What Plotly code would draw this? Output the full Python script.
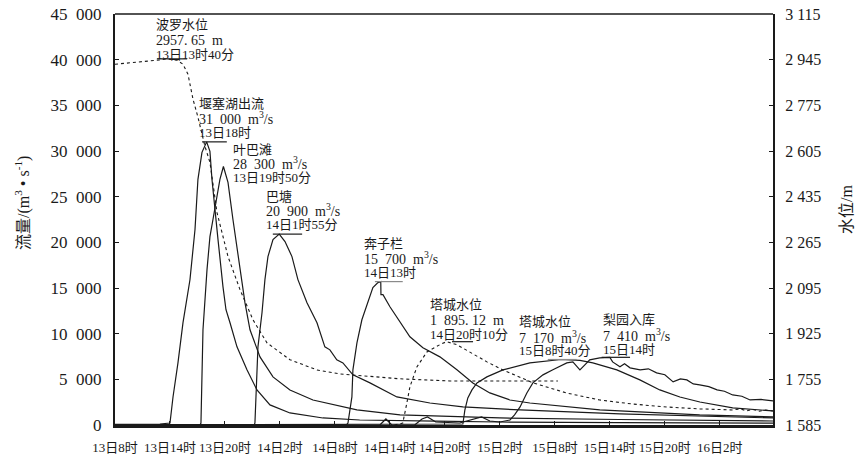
import plotly.graph_objects as go

# ---------------- data ----------------
# time axis: hours after 13日8时
tick_hours = [0, 6, 12, 18, 24, 30, 36, 42, 48, 54, 60, 66]
tick_labels = ["13日8时", "13日14时", "13日20时", "14日2时", "14日8时", "14日14时",
               "14日20时", "15日2时", "15日8时", "15日14时", "15日20时", "16日2时"]

flow_ticks = [0, 5000, 10000, 15000, 20000, 25000, 30000, 35000, 40000, 45000]
flow_tick_labels = ["0", "5\u2002000", "10\u2002000", "15\u2002000", "20\u2002000", "25\u2002000",
                    "30\u2002000", "35\u2002000", "40\u2002000", "45\u2002000"]
level_ticks = [1585, 1755, 1925, 2095, 2265, 2435, 2605, 2775, 2945, 3115]
level_tick_labels = ["1 585", "1 755", "1 925", "2 095", "2 265", "2 435",
                     "2 605", "2 775", "2 945", "3 115"]

# 堰塞湖出流 (m3/s)
yanse_t = [0, 4.9, 6.0, 6.33, 6.87, 7.42, 8.18, 8.73, 9.05, 9.49, 10.0, 10.36, 10.58, 10.91,
           11.24, 11.78, 12.11, 12.55, 13.31, 14.4, 15.49, 16.91, 19.09, 22.69, 26.7, 35, 42, 55, 71.8]
yanse_q = [60, 110, 220, 3070, 6800, 11200, 15900, 21400, 26900, 29850, 31000, 29960, 26900, 23270,
           20300, 15150, 12620, 11200, 8560, 6040, 3840, 2200, 1320, 770, 550, 420, 330, 260, 200]

# 叶巴滩 (m3/s)
yeba_t = [0, 9.3, 9.38, 9.6, 10.04, 10.36, 10.69, 11.45, 11.83, 12.33, 12.87, 13.31, 13.64, 14.18,
          14.73, 15.82, 17.24, 19.09, 21.6, 26.4, 31.1, 42, 55, 71.8]
yeba_q = [40, 50, 220, 10430, 17010, 20630, 22500, 26890, 28300, 26560, 22500, 19540, 17010, 13390,
          10430, 7460, 5270, 3840, 2740, 1650, 1100, 770, 600, 440]

# 巴塘 (m3/s)
batang_t = [0, 15.2, 15.27, 15.49, 15.6, 16.04, 16.36, 16.69, 17.24, 17.92, 18.55, 19.31, 19.96,
            20.95, 22.04, 22.9, 23.45, 24.2, 24.87, 25.96, 27.82, 30.76, 34.36, 37.96, 44.2, 55.1, 71.8]
batang_q = [30, 40, 220, 4940, 8560, 12290, 15920, 18440, 20300, 20900, 20090, 18440, 15920,
            13390, 11200, 8560, 8230, 7130, 6800, 5490, 4610, 3070, 2410, 1980, 1650, 1210, 770]

# 奔子栏 (m3/s)
benzilan_t = [0, 25.3, 25.42, 25.85, 25.96, 26.4, 26.94, 27.6, 28.14, 28.69, 29.0, 29.02, 29.24,
              30.0, 31.09, 32.18, 33.6, 35.45, 37.31, 39.05, 40.9, 43.09, 45.27, 52.9, 63.8, 71.8]
benzilan_q = [20, 60, 220, 3070, 6040, 9000, 11520, 13390, 15040, 15590, 15700, 14270, 14270,
              12950, 11300, 9660, 8450, 7460, 6040, 4610, 3510, 2740, 2410, 1650, 1100, 880]

# 塔城 流量 (m3/s)
tacheng_t = [0, 37.8, 37.96, 38.18, 38.5, 38.95, 39.5, 40.58, 42.33, 45.27, 47.45, 48.67, 50.73,
             52.14, 54.76, 57.27, 59.45, 61.64, 63.82, 67.4, 71.8]
tacheng_q = [20, 60, 110, 1650, 2960, 3840, 4610, 5270, 6040, 6800, 7020, 7170, 7080,
             6800, 6040, 4940, 3840, 3070, 2520, 1870, 1540]

# 梨园入库 (m3/s)
liyuan_t = [0, 28.9, 29.56, 30.2, 32.7, 33.5, 34.1, 35.0, 37.6, 38.9, 40.0, 40.9, 42.0, 43.1, 43.6,
            44.2, 44.94, 45.6, 46.7, 47.78, 49.3, 49.96, 50.4, 50.73, 51.27, 51.8, 52.9, 54.0, 54.3,
            55.1, 55.6, 56.2, 57.3, 58.2, 59.1, 60.0, 60.9, 61.7, 62.4, 63.1, 63.8, 64.8, 65.7,
            66.5, 67.4, 68.4, 69.3, 70.5, 71.8]
liyuan_q = [0, 0, 660, 0, 0, 660, 880, 330, 220, 550, 880, 440, 330, 550, 1100,
            1980, 3510, 4610, 5490, 6040, 6800, 6910, 6370, 6040, 6590, 7130, 7350, 7410, 6910,
            6370, 6700, 6260, 6040, 6150, 5710, 5500, 4720, 5050, 4940, 4500, 4390, 4200, 3840,
            3700, 3290, 3150, 2740, 2800, 2630]

# 波罗水位 (m)
boluo_t = [0, 2.73, 4.91, 5.67, 6.76, 7.42, 7.96, 8.51, 9.05, 9.82, 10.36, 11.13, 12.33, 13.64,
           15.05, 16.58, 19.09, 22.04, 24.55, 31.09, 36.54, 48.33]
boluo_h = [2928, 2936, 2944, 2948, 2943, 2928, 2891, 2798, 2731, 2622, 2563, 2376, 2212, 2089,
           1977, 1891, 1828, 1790, 1775, 1757, 1749, 1749]

# 塔城水位 (m)
tachengwl_t = [30.5, 31.4, 31.85, 32.18, 32.94, 34.04, 35.45, 36.17, 37.31, 38.73, 40.58, 42.33,
               44.18, 45.6, 49.3, 52.9, 56.5, 60.2, 63.8, 67.4, 68.2, 68.9, 69.6, 70.3, 71.0, 71.8]
tachengwl_h = [1585, 1592, 1667, 1727, 1801, 1857, 1884, 1895.12, 1884, 1857, 1820, 1790,
               1764, 1742, 1704, 1678, 1663, 1652, 1645, 1641, 1645, 1638, 1643, 1636, 1641, 1637]

# ---------------- helpers (layout geometry) ----------------
PL, PR, PT, PB = 115, 773, 14, 425
W, H = 858, 455


def px(x):
    return (x - PL) / (PR - PL)


def py(y):
    return (PB - y) / (PB - PT)


FONT = "Liberation Serif, 'Noto Sans CJK SC', serif"
INK = "#1a1a1a"

fig = go.Figure()


def solid(t, v, axis="y"):
    fig.add_trace(go.Scatter(x=t, y=v, mode="lines", yaxis=axis,
                             line=dict(color=INK, width=1.2), hoverinfo="skip"))


def dashed(t, v, axis="y"):
    fig.add_trace(go.Scatter(x=t, y=v, mode="lines", yaxis=axis,
                             line=dict(color=INK, width=1.1, dash="3px,3px"), hoverinfo="skip"))


solid(yanse_t, yanse_q)
solid(yeba_t, yeba_q)
solid(batang_t, batang_q)
solid(benzilan_t, benzilan_q)
solid(tacheng_t, tacheng_q)
solid(liyuan_t, liyuan_q)
dashed(boluo_t, boluo_h, "y2")
dashed(tachengwl_t, tachengwl_h, "y2")


# peak marker segments (at each peak value, offset in hours around peak time)
def peak_seg(t, v, axis, a, b, color=INK):
    i = v.index(max(v))
    fig.add_trace(go.Scatter(x=[t[i] + a, t[i] + b], y=[v[i], v[i]], mode="lines", yaxis=axis,
                             line=dict(color=color, width=1.2), hoverinfo="skip"))


peak_seg(boluo_t, boluo_h, "y2", -1.1, 2.2)
peak_seg(yanse_t, yanse_q, "y", -0.5, 2.2)
peak_seg(batang_t, batang_q, "y", -0.7, 2.5)
peak_seg(benzilan_t, benzilan_q, "y", -0.64, 2.4, "#8a8a8a")
peak_seg(tachengwl_t, tachengwl_h, "y2", 0.6, 2.9)
peak_seg(tacheng_t, tacheng_q, "y", -1.45, 1.7, "#8a8a8a")
peak_seg(liyuan_t, liyuan_q, "y", -0.9, 2.2)

# ---------------- labels ----------------
M3S = "m<sup>3</sup>/s"
blocks = [
    (155, [25, 40, 54], ["波罗水位", "2957.\u00a065\u2002m", "13日13时40分"]),
    (198, [104, 118, 132], ["堰塞湖出流", "31\u2002000\u2002" + M3S, "13日18时"]),
    (232, [149, 163, 178], ["叶巴滩", "28\u2002300\u2002" + M3S, "13日19时50分"]),
    (265, [196, 210, 224], ["巴塘", "20\u2002900\u2002" + M3S, "14日1时55分"]),
    (363, [243, 258, 272], ["奔子栏", "15\u2002700\u2002" + M3S, "14日13时"]),
    (429, [304, 320, 334], ["塔城水位", "1\u2002895.\u00a012\u2002m", "14日20时10分"]),
    (518, [321, 337, 350], ["塔城水位", "7\u2002170\u2002" + M3S, "15日8时40分"]),
    (602, [319, 335, 349], ["梨园入库", "7\u2002410\u2002" + M3S, "15日14时"]),
]
annotations = []
for x0, ys, texts in blocks:
    for k, (yy, tx) in enumerate(zip(ys, texts)):
        annotations.append(dict(x=px(x0), y=py(yy), xref="paper", yref="paper", text=tx,
                                showarrow=False, xanchor="left", yanchor="middle",
                                borderpad=0,
                                font=dict(family=FONT, size=14 if k == 1 else 13, color=INK)))

annotations.append(dict(x=px(22), y=py(203), xref="paper", yref="paper",
                        text="流量/(m<sup>3</sup> • s<sup>-1</sup>)", textangle=-90,
                        showarrow=False, xanchor="center", yanchor="middle",
                        font=dict(family=FONT, size=16, color=INK)))
annotations.append(dict(x=px(846), y=py(210), xref="paper", yref="paper",
                        text="水位/m", textangle=-90,
                        showarrow=False, xanchor="center", yanchor="middle",
                        font=dict(family=FONT, size=16, color=INK)))

fig.update_layout(
    width=W, height=H,
    margin=dict(l=PL, r=W - PR, t=PT, b=H - PB, autoexpand=False),
    paper_bgcolor="white", plot_bgcolor="white",
    showlegend=False,
    annotations=annotations,
    shapes=[dict(type="line", xref="paper", yref="paper", x0=0, x1=1, y0=1, y1=1,
                 line=dict(color=INK, width=1.5))],
    xaxis=dict(range=[0, 71.8], tickvals=tick_hours, ticktext=tick_labels, automargin=False,
               ticks="inside", ticklen=4, tickcolor=INK, tickwidth=1,
               showline=True, linecolor=INK, linewidth=3, showgrid=False, zeroline=False,
               ticklabelstandoff=8,
               tickfont=dict(family=FONT, size=13, color=INK)),
    yaxis=dict(range=[0, 45000], tickvals=flow_ticks, ticktext=flow_tick_labels, automargin=False,
               ticks="inside", ticklen=4, tickcolor=INK, tickwidth=1,
               showline=True, linecolor=INK, linewidth=2, showgrid=False, zeroline=False,
               ticklabelstandoff=8,
               tickfont=dict(family=FONT, size=17, color=INK)),
    yaxis2=dict(range=[1585, 3115], tickvals=level_ticks, ticktext=level_tick_labels,
                overlaying="y", side="right", automargin=False,
                ticks="inside", ticklen=4, tickcolor=INK, tickwidth=1,
                showline=True, linecolor=INK, linewidth=2, showgrid=False, zeroline=False,
                ticklabelstandoff=7,
                tickfont=dict(family=FONT, size=16, color=INK)),
)

fig.write_html("out.html", config={"displayModeBar": False},
               post_script="document.body.style.margin='0';document.body.style.overflow='hidden';")
